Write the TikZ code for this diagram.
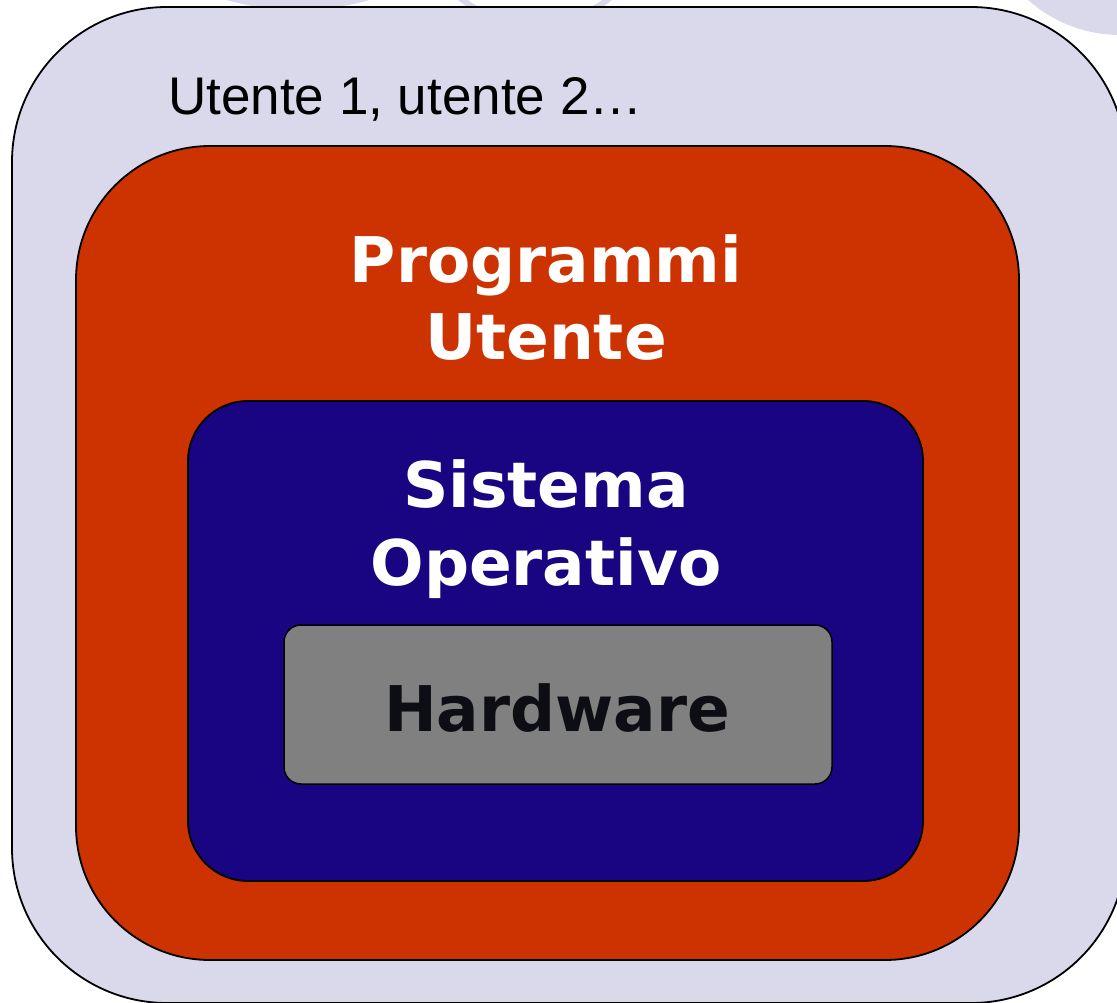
\documentclass[tikz,border=0pt]{standalone}
\usepackage{fontspec}
\setmainfont{Liberation Sans}
\newfontfamily\headfont{DejaVu Sans}
\definecolor{lavender}{HTML}{DAD9EC}
\definecolor{layerred}{HTML}{CC3300}
\definecolor{layerblue}{HTML}{190482}
\definecolor{layergray}{HTML}{808080}
\definecolor{inkdark}{HTML}{0D0D14}
\tikzset{
  layer/.style={draw=black, line width=1.8pt, inner sep=0pt, outer sep=0pt},
  headtext/.style={inner sep=0pt, anchor=base, font=\headfont\bfseries\fontsize{63}{76}\selectfont},
  ornament/.style={fill=lavender, draw=none}
}
\begin{document}
\begin{tikzpicture}[x=1pt, y=-1pt]
  % page area
  \fill[white] (0,0) rectangle (1117,1003);
  \useasboundingbox (0,0) rectangle (1117,1003);

  % decorative discs peeking out above the outer layer
  \fill[ornament] (298,-248) circle[radius=258];
  \draw[lavender, line width=6pt] (535,-94) circle[radius=118.5];
  \fill[ornament] (1120,-103) circle[radius=138];

  % nested layers
  \node[layer, fill=lavender, rounded corners=155pt,
        minimum width=1114pt, minimum height=996pt] (users) at (569,505) {};
  \node[layer, fill=layerred, rounded corners=134pt,
        minimum width=943pt, minimum height=814pt] (apps) at (547.5,553) {};
  \node[layer, fill=layerblue, rounded corners=60pt,
        minimum width=735pt, minimum height=480pt] (os) at (555.5,641) {};
  \node[layer, fill=layergray, rounded corners=17pt, line width=1.5pt,
        minimum width=548pt, minimum height=159pt] (hw) at (558,704.5) {};

  % labels
  \node[inner sep=0pt, anchor=base west, font=\fontsize{53}{60}\selectfont]
    (userslabel) at (168,115) {Utente 1, utente 2…};
  \node[headtext, text=white] (appsA) at (546,283) {Programmi};
  \node[headtext, text=white] (appsB) at (546,359) {Utente};
  \node[headtext, text=white] (osA) at (546,507) {Sistema};
  \node[headtext, text=white] (osB) at (546,585) {Operativo};
  \node[headtext, text=inkdark] (hwlabel) at (557,731) {Hardware};
\end{tikzpicture}
\end{document}
